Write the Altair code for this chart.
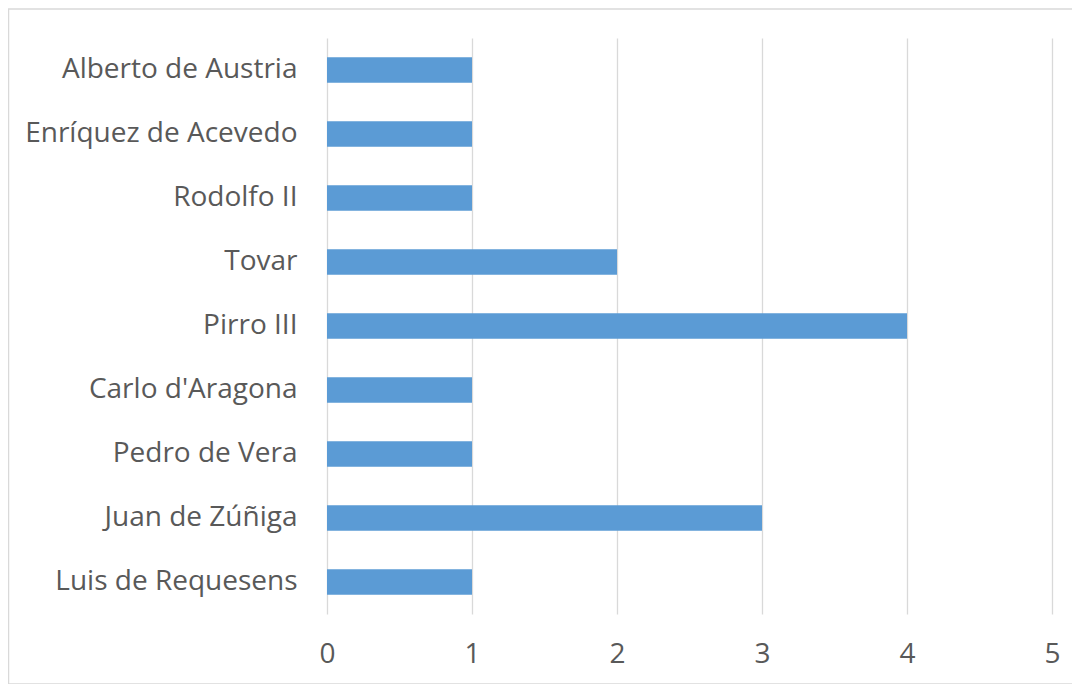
import altair as alt
import pandas as pd

names = ["Alberto de Austria", "Enríquez de Acevedo", "Rodolfo II", "Tovar",
         "Pirro III", "Carlo d'Aragona", "Pedro de Vera", "Juan de Zúñiga",
         "Luis de Requesens"]
counts = [1, 1, 1, 2, 4, 1, 1, 3, 1]
x_ticks = [0, 1, 2, 3, 4, 5]

df = pd.DataFrame({"name": names, "count": counts})

W, H = 725, 576
PAD_L, PAD_T, PAD_R, PAD_B = 319, 30, 20, 70

bars = alt.Chart(df).mark_bar(color="#5B9BD5").encode(
    x=alt.X("count:Q", scale=alt.Scale(domain=[0, 5], nice=False),
            axis=alt.Axis(values=x_ticks, title=None, domain=False, ticks=False,
                          grid=True, gridColor="#d9d9d9", gridWidth=1.3,
                          labelFontSize=28, labelColor="#595959",
                          labelFont="Open Sans", labelPadding=26, format="d",
                          labelFlush=False)),
    y=alt.Y("name:N", sort=names,
            scale=alt.Scale(paddingInner=0.6, paddingOuter=0.3),
            axis=alt.Axis(title=None, domain=False, ticks=False,
                          labelFontSize=28, labelColor="#595959",
                          labelFont="Open Sans", labelPadding=30,
                          labelLimit=400)),
)

border = alt.Chart(pd.DataFrame({"a": [0]})).mark_rect(
    fill=None, stroke="#d9d9d9", strokeWidth=1.5
).encode(
    x=alt.value(-PAD_L + 0.5), x2=alt.value(W + 25.5),
    y=alt.value(-PAD_T + 1), y2=alt.value(H + 70),
)

chart = alt.layer(border, bars).properties(
    width=W, height=H,
    background="white",
    autosize=alt.AutoSizeParams(type="none"),
    padding={"left": PAD_L, "top": PAD_T, "right": PAD_R, "bottom": PAD_B},
).configure_view(strokeWidth=0, stroke="transparent")

chart.save("out.html", embed_options={"renderer": "svg", "actions": False})
